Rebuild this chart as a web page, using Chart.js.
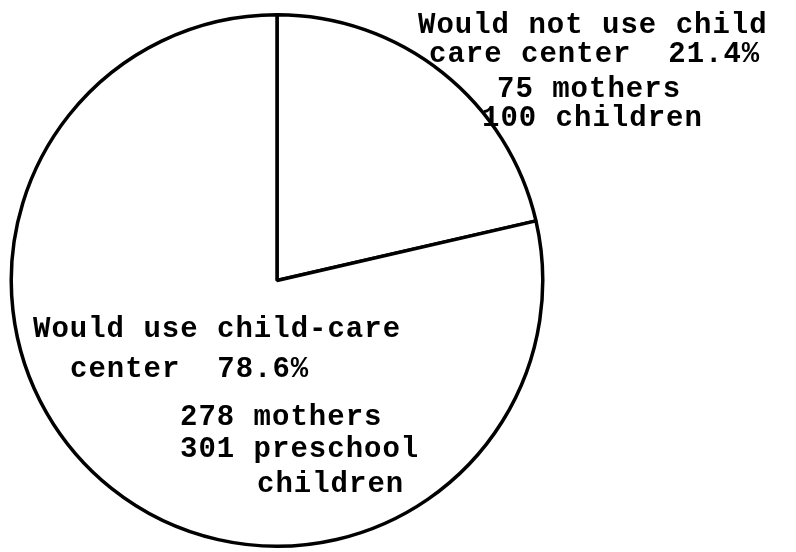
<!DOCTYPE html>
<html lang="en">

<head>
    <meta charset="UTF-8">
    <title>Child care center use</title>
    <style>
        body { margin: 0; background: #fff; }
        #wrap { width: 796px; height: 552px; position: relative; }
    </style>
</head>

<body>
    <div id="wrap">
        <canvas id="pie"></canvas>
    </div>

    <script src="https://cdn.jsdelivr.net/npm/chart.js@4.4.7/dist/chart.umd.min.js"></script>
    <script>
        // data
        const categories = ['Would not use child care center', 'Would use child-care center'];
        const percents = [21.4, 78.6];
        const mothers = [75, 278];
        const children = [100, 301];

        // label text, one line per entry
        const notUseLines = ['Would not use child', 'care center  ' + percents[0] + '%', mothers[0] + ' mothers', children[0] + ' children'];
        const useLines = ['Would use child-care', 'center  ' + percents[1] + '%', mothers[1] + ' mothers', children[1] + ' preschool', 'children'];

        // where the lines sit (x, baseline)
        const notUsePos = [[418, 33], [429, 62], [497, 97], [482, 126]];
        const usePos = [[33, 337], [70, 377], [180, 425], [180, 457], [257, 492]];

        const textPlugin = {
            id: 'typedLabels',
            afterDraw(chart) {
                const c = chart.ctx;
                c.save();
                c.fillStyle = '#000';
                c.font = 'bold 29px "Liberation Mono", "DejaVu Sans Mono", monospace';
                c.letterSpacing = '1px';
                c.textBaseline = 'alphabetic';
                c.textAlign = 'left';
                notUseLines.forEach((t, i) => c.fillText(t, notUsePos[i][0], notUsePos[i][1]));
                useLines.forEach((t, i) => c.fillText(t, usePos[i][0], usePos[i][1]));
                c.restore();
            }
        };

        new Chart(document.getElementById('pie'), {
            type: 'pie',
            data: {
                labels: categories,
                datasets: [{
                    data: percents,
                    backgroundColor: '#fff',
                    borderColor: '#000',
                    borderWidth: 3.5
                }]
            },
            options: {
                responsive: true,
                maintainAspectRatio: false,
                animation: false,
                layout: { padding: { top: 13, bottom: 4, left: 9, right: 251 } },
                plugins: {
                    legend: { display: false },
                    tooltip: { enabled: false }
                }
            },
            plugins: [textPlugin]
        });
    </script>
</body>

</html>
